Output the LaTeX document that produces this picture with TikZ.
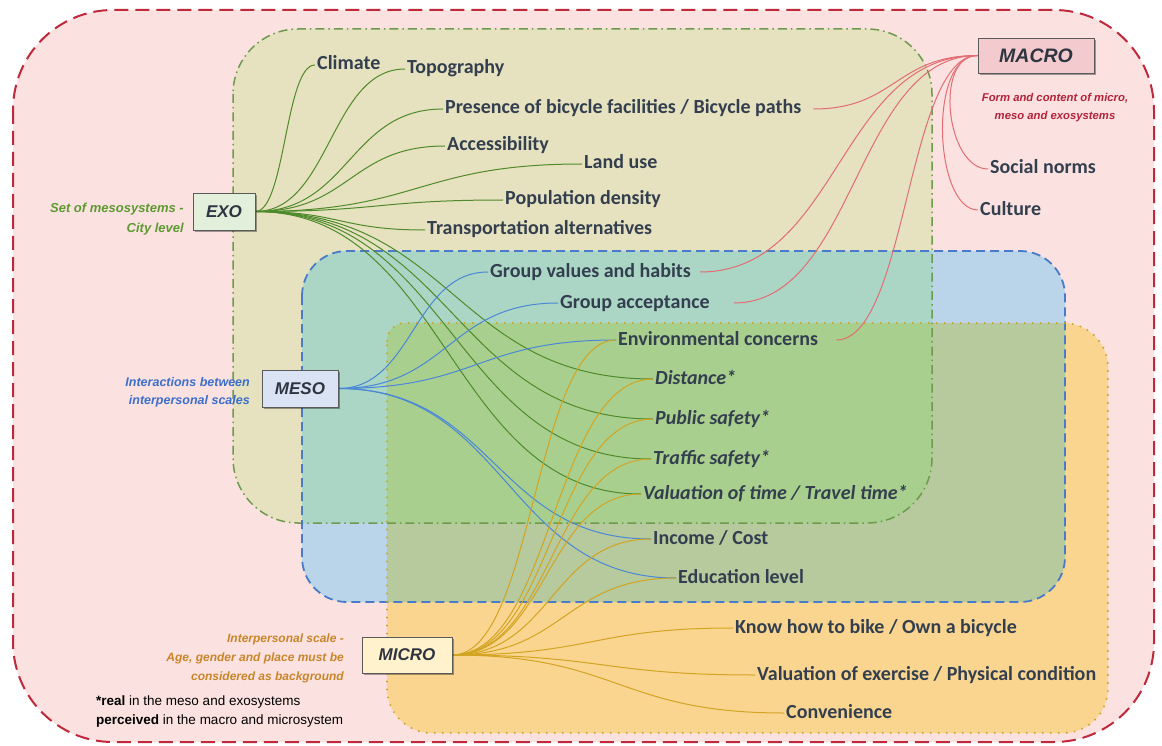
\documentclass[tikz,border=0pt]{standalone}
\usepackage{fontspec}
\setmainfont{Carlito}
\newfontfamily\annfont{Liberation Sans}
\usetikzlibrary{calc,shadows}
\pgfdeclarelayer{regions}
\pgfdeclarelayer{wires}
\pgfsetlayers{regions,wires,main}

\definecolor{macrobg}{HTML}{FBE2E0}
\definecolor{macroborder}{HTML}{C0283B}
\definecolor{exobg}{HTML}{E6E1BF}
\definecolor{exoborder}{HTML}{6E9A4E}
\definecolor{mesobg}{HTML}{BAD5E9}
\definecolor{exomesobg}{HTML}{ABD6C5}
\definecolor{mesoborder}{HTML}{4A7BCB}
\definecolor{microbg}{HTML}{F9D590}
\definecolor{mesomicrobg}{HTML}{B6CA9E}
\definecolor{allbg}{HTML}{A9CF8E}
\definecolor{microborder}{HTML}{C9A430}
\definecolor{itemtext}{HTML}{333F4F}
\definecolor{boxtext}{HTML}{2F3441}
\definecolor{boxline}{HTML}{5A5A5A}
\definecolor{exobox}{HTML}{E2EFDA}
\definecolor{mesobox}{HTML}{DAE3F3}
\definecolor{microbox}{HTML}{FFF2CC}
\definecolor{macrobox}{HTML}{F3CBCF}
\definecolor{exonote}{HTML}{5E9A32}
\definecolor{mesonote}{HTML}{3C6ECB}
\definecolor{micronote}{HTML}{C9852A}
\definecolor{macronote}{HTML}{B4223A}
\definecolor{exowire}{HTML}{4F8A2B}
\definecolor{mesowire}{HTML}{4A87D6}
\definecolor{microwire}{HTML}{D2A421}
\definecolor{macrowire}{HTML}{E26D73}

% outline of the microsystem area (small radius at the top left corner)
\newcommand\microoutline{(387,341) .. controls (387,331) and (395,323) .. (405,323)
  -- (1063,323) .. controls (1088,323) and (1108,343) .. (1108,368)
  -- (1108,688) .. controls (1108,713) and (1088,733) .. (1063,733)
  -- (432,733) .. controls (407,733) and (387,713) .. (387,688) -- cycle}

\begin{document}
\begin{tikzpicture}[x=1pt,y=-1pt,
  item/.style={anchor=west, inner sep=2pt, text=itemtext, text height=14pt, text depth=4pt,
    font=\bfseries\fontsize{20}{24}\selectfont},
  itemit/.style={item, font=\bfseries\itshape\fontsize{20}{24}\selectfont},
  box/.style={draw=boxline, line width=0.9pt, text=boxtext, inner sep=0pt,
    font=\annfont\bfseries\itshape\fontsize{17}{20}\selectfont,
    drop shadow={shadow xshift=2pt, shadow yshift=-2pt, opacity=0.35, fill=black}},
  note/.style={inner sep=0pt, font=\annfont\bfseries\itshape\fontsize{12}{19}\selectfont},
  wire/.style={line width=1pt},
  branch/.style={to path={let \p1=(\tikztostart), \p2=(\tikztotarget),
      \n1={#1*(\x2-\x1)}, \n2={-#1*(\x2-\x1)} in
      .. controls +(\n1,0pt) and +(\n2,0pt) .. (\tikztotarget) \tikztonodes}},
  branch/.default=0.5,
]
\useasboundingbox (0,0) rectangle (1162,746);

% ---------- nested system areas ----------
\begin{pgfonlayer}{regions}
\fill[white] (0,0) rectangle (1162,746);
\fill[macrobg, rounded corners=100] (13,10) rectangle (1154,742);
\fill[exobg, rounded corners=65] (233,29) rectangle (932,523);
\fill[mesobg, rounded corners=45] (302,251) rectangle (1065,602);
\begin{scope}
  \clip[rounded corners=65] (233,29) rectangle (932,523);
  \fill[exomesobg, rounded corners=45] (302,251) rectangle (1065,602);
\end{scope}
\fill[microbg] \microoutline;
\begin{scope}
  \clip[rounded corners=45] (302,251) rectangle (1065,602);
  \fill[mesomicrobg] \microoutline;
\end{scope}
\begin{scope}
  \clip[rounded corners=45] (302,251) rectangle (1065,602);
  \clip[rounded corners=65] (233,29) rectangle (932,523);
  \fill[allbg] \microoutline;
\end{scope}
\draw[exoborder, line width=1.5pt, dash pattern=on 9pt off 4pt on 1.5pt off 4pt,
  rounded corners=65] (233,29) rectangle (932,523);
\draw[mesoborder, line width=1.8pt, dash pattern=on 9pt off 5pt,
  rounded corners=45] (302,251) rectangle (1065,602);
\draw[microborder, line width=2.2pt, line cap=round, dash pattern=on 0pt off 8pt] \microoutline;
\draw[macroborder, line width=2pt, dash pattern=on 14pt off 7pt,
  rounded corners=100] (13,10) rectangle (1154,742);
\end{pgfonlayer}

% ---------- system boxes ----------
\node[box, fill=exobox, minimum width=62pt, minimum height=37pt] (exo) at (224,211.5) {EXO};
\node[box, fill=mesobox, minimum width=76pt, minimum height=37pt] (meso) at (300,388.5) {MESO};
\node[box, fill=microbox, minimum width=90pt, minimum height=36pt] (micro) at (407,655) {MICRO};
\node[box, fill=macrobox, minimum width=116pt, minimum height=35pt,
  font=\annfont\bfseries\itshape\fontsize{19.5}{22}\selectfont] (macro) at (1036,55.5) {MACRO};

% ---------- system descriptions ----------
\node[note, text=exonote, align=right, anchor=east,
  font=\annfont\bfseries\itshape\fontsize{13}{20}\selectfont] (exonote) at (184,219)
  {Set of mesosystems -\\City level};
\node[note, text=mesonote, align=right, anchor=east,
  font=\annfont\bfseries\itshape\fontsize{12.5}{18}\selectfont] (mesonote) at (250,392)
  {Interactions between\\interpersonal scales};
\node[note, text=micronote, align=right, anchor=east] (micronote) at (344,658)
  {Interpersonal scale -\\Age, gender and place must be\\considered as background};
\node[note, text=macronote, align=center,
  font=\annfont\bfseries\itshape\fontsize{11.3}{18}\selectfont] (macronote) at (1055,108)
  {Form and content of micro,\\meso and exosystems};
\node[anchor=west, inner sep=0pt, align=left,
  font=\annfont\fontsize{13.5}{19}\selectfont] (footnote) at (96,712)
  {\textbf{*real} in the meso and exosystems\\\textbf{perceived} in the macro and microsystem};

% ---------- factors ----------
\node[item] (clim) at (315,65) {Climate};
\node[item] (topo) at (405,69) {Topography};
\node[item] (pres) at (443,109) {Presence of bicycle facilities / Bicycle paths};
\node[item] (acc) at (445,146) {Accessibility};
\node[item] (land) at (582,164) {Land use};
\node[item] (pop) at (503,200) {Population density};
\node[item] (trans) at (425,230) {Transportation alternatives};
\node[item] (gva) at (488,272) {Group values and habits};
\node[item] (gac) at (558,303) {Group acceptance};
\node[item] (env) at (616,340) {Environmental concerns};
\node[itemit] (dist) at (653,379) {Distance*};
\node[itemit] (pub) at (653,419) {Public safety*};
\node[itemit] (traf) at (651,459) {Traffic safety*};
\node[itemit] (valt) at (641,494) {Valuation of time / Travel time*};
\node[item] (inc) at (651,539) {Income / Cost};
\node[item] (edu) at (676,578) {Education level};
\node[item] (know) at (733,628) {Know how to bike / Own a bicycle};
\node[item] (vex) at (755,675) {Valuation of exercise / Physical condition};
\node[item] (conv) at (784,713) {Convenience};
\node[item] (soc) at (988,169) {Social norms};
\node[item] (cult) at (978,210) {Culture};

% ---------- connections ----------
\begin{pgfonlayer}{wires}
\foreach \t in {clim,topo,pres,acc,land,pop,trans,dist,pub,traf,valt}
  \draw[wire, exowire] (exo.east) to[branch] (\t.west);
\foreach \t in {gva,gac,env,inc,edu}
  \draw[wire, mesowire] (meso.east) to[branch] (\t.west);
\foreach \t in {env,dist,pub,traf,valt,inc,edu,know,vex,conv}
  \draw[wire, microwire] (micro.east) to[branch] (\t.west);
\draw[wire, macrowire] (macro.west) to[branch] ([xshift=10pt]pres.east);
\draw[wire, macrowire] (macro.west) to[branch] ([xshift=7pt]gva.east);
\draw[wire, macrowire] (macro.west) to[branch] ([xshift=22pt]gac.east);
\draw[wire, macrowire] (macro.west) to[branch] ([xshift=16pt]env.east);
\draw[wire, macrowire] (macro.west) .. controls +(-44pt,0pt) and +(-42pt,0pt) .. (soc.west);
\draw[wire, macrowire] (macro.west) .. controls +(-50pt,0pt) and +(-44pt,0pt) .. (cult.west);
\end{pgfonlayer}
\end{tikzpicture}
\end{document}
